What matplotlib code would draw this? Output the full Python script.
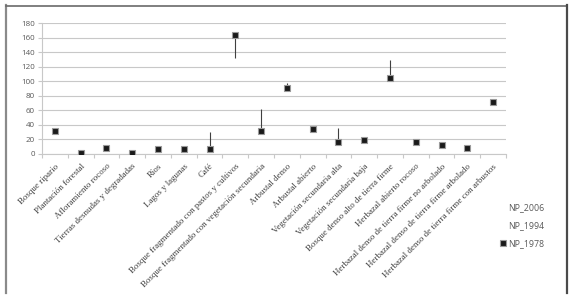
import matplotlib
matplotlib.use("Agg")
import matplotlib.pyplot as plt
from matplotlib.lines import Line2D
import numpy as np

categories = [
    "Bosque ripario", "Plantación forestal", "Afloramiento rocoso",
    "Tierras desnudas y degradadas", "Ríos", "Lagos y lagunas", "Café",
    "Bosque fragmentado con pastos y cultivos",
    "Bosque fragmentado con vegetación secundaria",
    "Arbustal denso", "Arbustal abierto", "Vegetación secundaria alta",
    "Vegetación secundaria baja", "Bosque denso alto de tierra firme",
    "Herbazal abierto rocoso", "Herbazal denso de tierra firme no arbolado",
    "Herbazal denso de tierra firme arbolado",
    "Herbazal denso de tierra firme con arbustos",
]
np_2006 = [32, 1, 8, 2, 7, 7, 30, 132, 62, 97, 35, 36, 19, 129, 16, 13, 8, 71]
np_1994 = [32, 1, 8, 2, 7, 7, 7, 163, 32, 91, 35, 17, 19, 104, 16, 13, 8, 71]
np_1978 = [32, 1, 8, 2, 7, 7, 7, 163, 32, 91, 35, 17, 19, 104, 16, 13, 8, 71]
yticks = [0, 20, 40, 60, 80, 100, 120, 140, 160, 180]

fig = plt.figure(figsize=(5.74, 3.0), dpi=100)
ax = fig.add_axes([42 / 574, 1 - 154 / 300, (506 - 42) / 574, (154 - 23) / 300])

x = np.arange(len(categories))
hi = np.maximum.reduce([np_2006, np_1994, np_1978])
lo = np.minimum.reduce([np_2006, np_1994, np_1978])
ax.vlines(x, lo, hi, color="#404040", linewidth=0.8, zorder=3)

ax.plot(x, np_2006, linestyle="none", marker="none", label="NP_2006")
ax.plot(x, np_1994, linestyle="none", marker="none", label="NP_1994")
ax.plot(x, np_1978, linestyle="none", marker="s", markersize=4,
        markerfacecolor="#1a1a1a", markeredgecolor="#9a9a9a", markeredgewidth=0.8,
        label="NP_1978", zorder=4)

ax.set_xlim(-0.5, len(categories) - 0.5)
ax.set_ylim(0, 180)
ax.set_yticks(yticks)
ax.set_yticklabels([str(v) for v in yticks], family="Open Sans", fontsize=5.8, color="#595959")
ax.yaxis.grid(True, color="#c8c8c8", linewidth=0.8)
ax.set_axisbelow(True)
ax.tick_params(axis="y", length=3, width=0.8, color="#c8c8c8", pad=2)

ax.set_xticks(x)
ax.set_xticklabels(categories, rotation=45, ha="right", rotation_mode="anchor",
                   family="Liberation Serif", fontsize=6.4, color="#404040")
ax.set_xticks(np.arange(-0.5, len(categories) + 0.5, 1), minor=True)
ax.tick_params(axis="x", which="major", length=0, pad=6)
ax.tick_params(axis="x", which="minor", length=3, width=0.8, color="#c8c8c8")

for s in ["top", "right"]:
    ax.spines[s].set_visible(False)
ax.spines["left"].set_color("#c8c8c8")
ax.spines["bottom"].set_color("#c8c8c8")
ax.spines["left"].set_linewidth(0.8)
ax.spines["bottom"].set_linewidth(0.8)

handles, labels = ax.get_legend_handles_labels()
leg = fig.legend(handles, labels, loc="upper left", bbox_to_anchor=(500 / 574, 1 - 203 / 300),
                 frameon=False, handlelength=0.6, handletextpad=0.3, labelspacing=1.05,
                 prop={"family": "Open Sans", "size": 6.3}, borderaxespad=0, borderpad=0)
for t in leg.get_texts():
    t.set_color("#595959")

# chart frame
fig.add_artist(Line2D([5.5 / 574, 5.5 / 574], [1 - 5 / 300, 1 - 293 / 300],
                      transform=fig.transFigure, color="#8a8a8a", linewidth=1.6))
fig.add_artist(Line2D([5.5 / 574, 566.5 / 574], [1 - 5.5 / 300, 1 - 5.5 / 300],
                      transform=fig.transFigure, color="#6a6a6a", linewidth=1.2))
fig.add_artist(Line2D([566.5 / 574, 566.5 / 574], [1 - 5 / 300, 1 - 293 / 300],
                      transform=fig.transFigure, color="#4a4a4a", linewidth=1.6))

fig.savefig("out.png", dpi=100)
